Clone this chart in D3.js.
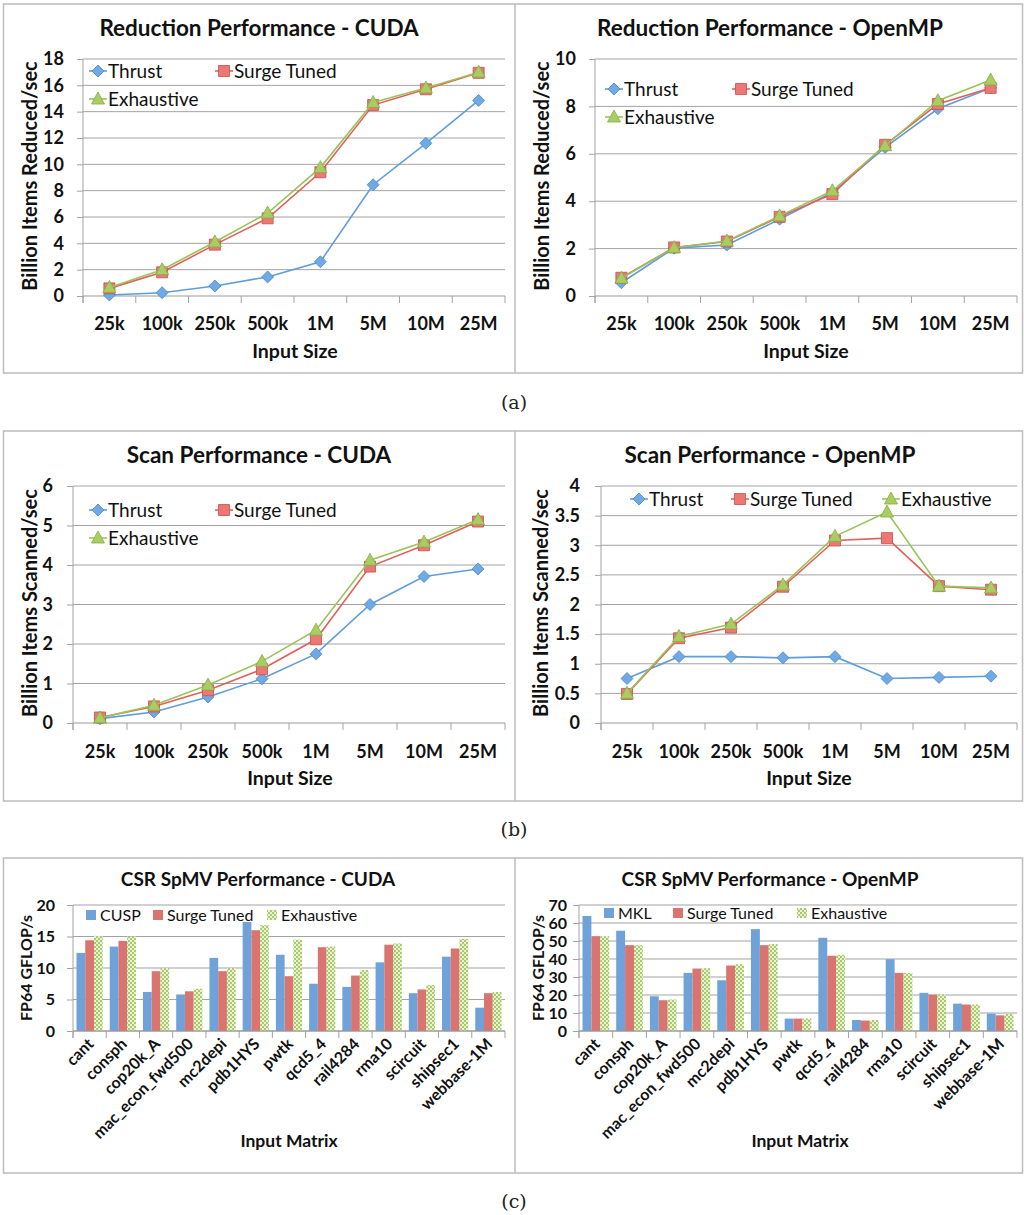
<!DOCTYPE html>
<html><head><meta charset="utf-8">
<script src="https://cdn.jsdelivr.net/npm/d3@7"></script>
<style>body{margin:0;background:#fff}</style>
</head><body>
<script>
// ---------- DATA ----------
const sizeLabels = ["25k","100k","250k","500k","1M","5M","10M","25M"];
const redCudaThrust = [0.08,0.25,0.76,1.45,2.6,8.45,11.6,14.85];
const redCudaSurge  = [0.58,1.8,3.9,5.9,9.4,14.5,15.7,16.95];
const redCudaExh    = [0.65,2.0,4.1,6.3,9.75,14.7,15.8,17.0];
const redOmpThrust  = [0.56,2.02,2.15,3.24,4.37,6.27,7.9,8.78];
const redOmpSurge   = [0.77,2.05,2.3,3.34,4.3,6.38,8.1,8.78];
const redOmpExh     = [0.75,2.04,2.32,3.38,4.44,6.34,8.24,9.11];
const scanCudaThrust= [0.11,0.28,0.66,1.12,1.75,3.0,3.71,3.9];
const scanCudaSurge = [0.14,0.42,0.83,1.36,2.12,3.96,4.5,5.1];
const scanCudaExh   = [0.13,0.45,0.96,1.56,2.35,4.12,4.58,5.15];
const scanOmpThrust = [0.75,1.12,1.12,1.1,1.12,0.75,0.77,0.79];
const scanOmpSurge  = [0.49,1.43,1.61,2.3,3.08,3.12,2.31,2.25];
const scanOmpExh    = [0.5,1.46,1.67,2.33,3.15,3.56,2.31,2.28];
const lineSeriesNames = ["Thrust","Surge Tuned","Exhaustive"];

const matrices = ["cant","consph","cop20k_A","mac_econ_fwd500","mc2depi","pdb1HYS","pwtk","qcd5_4","rail4284","rma10","scircuit","shipsec1","webbase-1M"];
const spmvCudaCusp  = [12.4,13.4,6.2,5.8,11.6,17.3,12.1,7.5,7.0,10.9,6.0,11.8,3.7];
const spmvCudaSurge = [14.4,14.3,9.5,6.3,9.5,16.0,8.7,13.3,8.8,13.7,6.6,13.1,6.0];
const spmvCudaExh   = [15.1,15.0,10.0,6.7,10.0,16.8,14.5,13.4,9.7,13.9,7.3,14.6,6.2];
const spmvOmpMkl    = [63.9,55.7,19.3,32.3,28.2,56.6,6.9,51.8,6.1,39.9,21.2,15.2,9.7];
const spmvOmpSurge  = [52.7,47.7,17.1,34.7,36.4,47.7,6.9,41.8,5.8,32.3,20.2,14.7,8.7];
const spmvOmpExh    = [52.7,47.7,17.5,34.9,37.1,48.3,6.9,42.3,6.1,32.3,20.2,14.7,9.5];

const captions = ["(a)","(b)","(c)"];

// ---------- STYLE ----------
const FONT = "Lato, 'Open Sans', sans-serif";
const lineStyles = [
  {line:"#5f9ddc", fill:"#6faae4", stroke:"#4c86c4", shape:"diamond"},
  {line:"#e0605d", fill:"#ec7874", stroke:"#c84e4b", shape:"square"},
  {line:"#9cc25a", fill:"#a9cd62", stroke:"#87ac45", shape:"triangle"}
];
const GRID = "#a3a3a3";

const svg = d3.select("body").append("svg").attr("width",1024).attr("height",1215)
  .style("font-family", FONT);

const defs = svg.append("defs");
const pat = defs.append("pattern").attr("id","checker").attr("patternUnits","userSpaceOnUse")
  .attr("width",4).attr("height",4);
pat.append("rect").attr("width",4).attr("height",4).attr("fill","#e9f2d6");
pat.append("rect").attr("width",2).attr("height",2).attr("fill","#a8cb68");
pat.append("rect").attr("x",2).attr("y",2).attr("width",2).attr("height",2).attr("fill","#a8cb68");

// ---------- FRAMES ----------
const rows = [[4,373],[431,801],[858,1173]];
rows.forEach(([t,b])=>{
  svg.append("rect").attr("x",3.5).attr("y",t).attr("width",1019).attr("height",b-t)
    .attr("fill","none").attr("stroke","#bcbcbc").attr("stroke-width",1.5);
  svg.append("line").attr("x1",515).attr("x2",515).attr("y1",t).attr("y2",b)
    .attr("stroke","#bcbcbc").attr("stroke-width",1.5);
});
[[514,409],[514,836],[514,1208]].forEach((p,i)=>{
  svg.append("text").attr("x",p[0]).attr("y",p[1]).attr("text-anchor","middle")
    .style("font-family","'DejaVu Serif', serif").style("font-size","19px").attr("fill","#222")
    .text(captions[i]);
});

function markerPath(shape, cx, cy){
  if(shape==="diamond"){const r=6;return `M${cx},${cy-r}L${cx+r},${cy}L${cx},${cy+r}L${cx-r},${cy}Z`;}
  if(shape==="square"){const r=5.5;return `M${cx-r},${cy-r}H${cx+r}V${cy+r}H${cx-r}Z`;}
  const h=6.5;return `M${cx},${cy-7}L${cx+h},${cy+5}L${cx-h},${cy+5}Z`;
}

function frameAxes(g, cfg, x, y, cats){
  const ticks = d3.range(0, cfg.max + cfg.step/2, cfg.step);
  g.append("g").selectAll("line").data(ticks.filter(d=>d>0)).join("line")
    .attr("x1",cfg.x0).attr("x2",cfg.x1).attr("y1",d=>y(d)).attr("y2",d=>y(d))
    .attr("stroke",GRID).attr("stroke-width",1);
  const ya = g.append("g").attr("transform",`translate(${cfg.x0},0)`)
    .call(d3.axisLeft(y).tickValues(ticks).tickSize(6).tickPadding(cfg.ylGap-6).tickFormat(d=>String(d)));
  ya.select(".domain").attr("stroke",GRID).attr("d",`M0,${cfg.yt}V${cfg.y0+7}`);
  ya.selectAll(".tick line").attr("stroke",GRID);
  ya.selectAll(".tick text").style("font-family",FONT).style("font-weight","bold")
    .style("font-size",cfg.tickFs+"px").attr("fill","#111");
  g.append("line").attr("x1",cfg.x0).attr("x2",cfg.x1).attr("y1",cfg.y0).attr("y2",cfg.y0)
    .attr("stroke","#999").attr("stroke-width",1.2);
  const bounds = cats.map(c=>x(c)).concat([x(cats[cats.length-1])+x.bandwidth()]);
  g.append("g").selectAll("line").data(bounds).join("line")
    .attr("x1",d=>d).attr("x2",d=>d).attr("y1",cfg.y0).attr("y2",cfg.y0+7)
    .attr("stroke",GRID);
  g.append("text").attr("x",cfg.tx).attr("y",cfg.ty).attr("text-anchor","middle")
    .style("font-weight","bold").style("font-size",cfg.titleFs+"px").attr("fill","#111").text(cfg.title);
  g.append("text").attr("x",cfg.xlx).attr("y",cfg.xly).attr("text-anchor","middle")
    .style("font-weight","bold").style("font-size",cfg.axFs+"px").attr("fill","#111").text(cfg.xlab);
  g.append("text").attr("transform",`translate(${cfg.ylx},${cfg.yly}) rotate(-90)`).attr("text-anchor","middle")
    .style("font-weight","bold").style("font-size",cfg.ayFs+"px").attr("fill","#111").text(cfg.ylab);
}

function linePanel(cfg){
  const g = svg.append("g");
  const x = d3.scaleBand().domain(sizeLabels).range([cfg.x0,cfg.x1]);
  const y = d3.scaleLinear().domain([0,cfg.max]).range([cfg.y0,cfg.yt]);
  frameAxes(g,cfg,x,y,sizeLabels);
  const xa = g.append("g").attr("transform",`translate(0,${cfg.tickY})`)
    .call(d3.axisBottom(x).tickSize(0).tickPadding(0));
  xa.select(".domain").remove();
  xa.selectAll(".tick text").attr("dy",0).attr("y",0).style("font-family",FONT).style("font-weight","bold")
    .style("font-size","18px").attr("fill","#111");
  const cx = d => x(d) + x.bandwidth()/2;
  cfg.series.forEach((vals,si)=>{
    const st = lineStyles[si];
    g.append("path").datum(vals).attr("fill","none").attr("stroke",st.line).attr("stroke-width",1.6)
      .attr("d", d3.line().x((d,i)=>cx(sizeLabels[i])).y(d=>y(d)));
    g.append("g").selectAll("path").data(vals).join("path")
      .attr("d",(d,i)=>markerPath(st.shape,cx(sizeLabels[i]),y(d)))
      .attr("fill",st.fill).attr("stroke",st.stroke).attr("stroke-width",0.8);
  });
  cfg.legend.forEach((p,si)=>{
    const st = lineStyles[si];
    g.append("line").attr("x1",p[0]-9).attr("x2",p[0]+9).attr("y1",p[1]).attr("y2",p[1])
      .attr("stroke",st.line).attr("stroke-width",1.6);
    g.append("path").attr("d",markerPath(st.shape,p[0],p[1])).attr("fill",st.fill)
      .attr("stroke",st.stroke).attr("stroke-width",0.8);
    g.append("text").attr("x",p[0]+10).attr("y",p[1]+6.5).style("font-size","19px").attr("fill","#111")
      .text(lineSeriesNames[si]);
  });
}

const barFills = ["#6fa2d8","#da7470","url(#checker)"];

function barPanel(cfg){
  const g = svg.append("g");
  const x = d3.scaleBand().domain(matrices).range([cfg.x0,cfg.x1]);
  const y = d3.scaleLinear().domain([0,cfg.max]).range([cfg.y0,cfg.yt]);
  const xs = d3.scaleBand().domain([0,1,2]).range([3.5, x.bandwidth()-3.5]);
  frameAxes(g,cfg,x,y,matrices);
  cfg.series.forEach((vals,si)=>{
    g.append("g").selectAll("rect").data(vals).join("rect")
      .attr("x",(d,i)=>x(matrices[i])+xs(si)).attr("width",xs.bandwidth())
      .attr("y",d=>y(d)).attr("height",d=>cfg.y0-y(d))
      .attr("fill",barFills[si]);
  });
  g.append("line").attr("x1",cfg.x0).attr("x2",cfg.x1).attr("y1",cfg.y0).attr("y2",cfg.y0)
    .attr("stroke","#999").attr("stroke-width",1.2);
  const xa = g.append("g").attr("transform",`translate(0,${cfg.y0})`)
    .call(d3.axisBottom(x).tickSize(0).tickPadding(0));
  xa.select(".domain").remove();
  xa.selectAll(".tick text").attr("y",0).attr("dy",0)
    .attr("transform","translate(5,14) rotate(-45)").attr("text-anchor","end")
    .style("font-family",FONT).style("font-weight","bold").style("font-size","16px").attr("fill","#111");
  cfg.legend.forEach((p,si)=>{
    g.append("rect").attr("x",p[0]-5).attr("y",p[1]-5).attr("width",10).attr("height",10)
      .attr("fill",barFills[si]);
    g.append("text").attr("x",p[0]+9).attr("y",p[1]+6).style("font-size","16px").attr("fill","#111")
      .text(cfg.names[si]);
  });
}

linePanel({x0:83,x1:505,y0:296,yt:59,max:18,step:2,ylGap:19,tickFs:18,titleFs:22.5,axFs:19.5,ayFs:20,
  title:"Reduction Performance - CUDA",tx:259,ty:36,ylab:"Billion Items Reduced/sec",ylx:37,yly:176,
  xlab:"Input Size",xlx:295,xly:358,tickY:330,legend:[[98,71],[224,71],[98,99]],
  series:[redCudaThrust,redCudaSurge,redCudaExh]});
linePanel({x0:595,x1:1017,y0:296,yt:59,max:10,step:2,ylGap:19,tickFs:18,titleFs:22.5,axFs:19.5,ayFs:20,
  title:"Reduction Performance - OpenMP",tx:770,ty:36,ylab:"Billion Items Reduced/sec",ylx:549,yly:176,
  xlab:"Input Size",xlx:806,xly:358,tickY:330,legend:[[614,89],[741,89],[614,117]],
  series:[redOmpThrust,redOmpSurge,redOmpExh]});
linePanel({x0:73,x1:505,y0:723,yt:486,max:6,step:1,ylGap:20,tickFs:18,titleFs:22.5,axFs:19.5,ayFs:20,
  title:"Scan Performance - CUDA",tx:259,ty:463,ylab:"Billion Items Scanned/sec",ylx:37,yly:603,
  xlab:"Input Size",xlx:290,xly:785,tickY:758,legend:[[98,510],[224,510],[98,538]],
  series:[scanCudaThrust,scanCudaSurge,scanCudaExh]});
linePanel({x0:601,x1:1017,y0:723,yt:486,max:4,step:0.5,ylGap:21,tickFs:18,titleFs:22.5,axFs:19.5,ayFs:20,
  title:"Scan Performance - OpenMP",tx:770,ty:463,ylab:"Billion Items Scanned/sec",ylx:548,yly:603,
  xlab:"Input Size",xlx:809,xly:785,tickY:758,legend:[[639,499],[740,499],[891,499]],
  series:[scanOmpThrust,scanOmpSurge,scanOmpExh]});
barPanel({x0:73,x1:505,y0:1031,yt:905,max:20,step:5,ylGap:18,tickFs:16,titleFs:19,axFs:17.5,ayFs:16,
  title:"CSR SpMV Performance - CUDA",tx:258,ty:886,ylab:"FP64 GFLOP/s",ylx:32,yly:968,
  xlab:"Input Matrix",xlx:289,xly:1147,legend:[[91,915],[158,915],[272,915]],
  names:["CUSP","Surge Tuned","Exhaustive"],series:[spmvCudaCusp,spmvCudaSurge,spmvCudaExh]});
barPanel({x0:579,x1:1017,y0:1031,yt:905,max:70,step:10,ylGap:12,tickFs:16,titleFs:19,axFs:17.5,ayFs:16,
  title:"CSR SpMV Performance - OpenMP",tx:770,ty:886,ylab:"FP64 GFLOP/s",ylx:544,yly:968,
  xlab:"Input Matrix",xlx:800,xly:1147,legend:[[609,913],[678,913],[802,913]],
  names:["MKL","Surge Tuned","Exhaustive"],series:[spmvOmpMkl,spmvOmpSurge,spmvOmpExh]});
</script>
</body></html>
